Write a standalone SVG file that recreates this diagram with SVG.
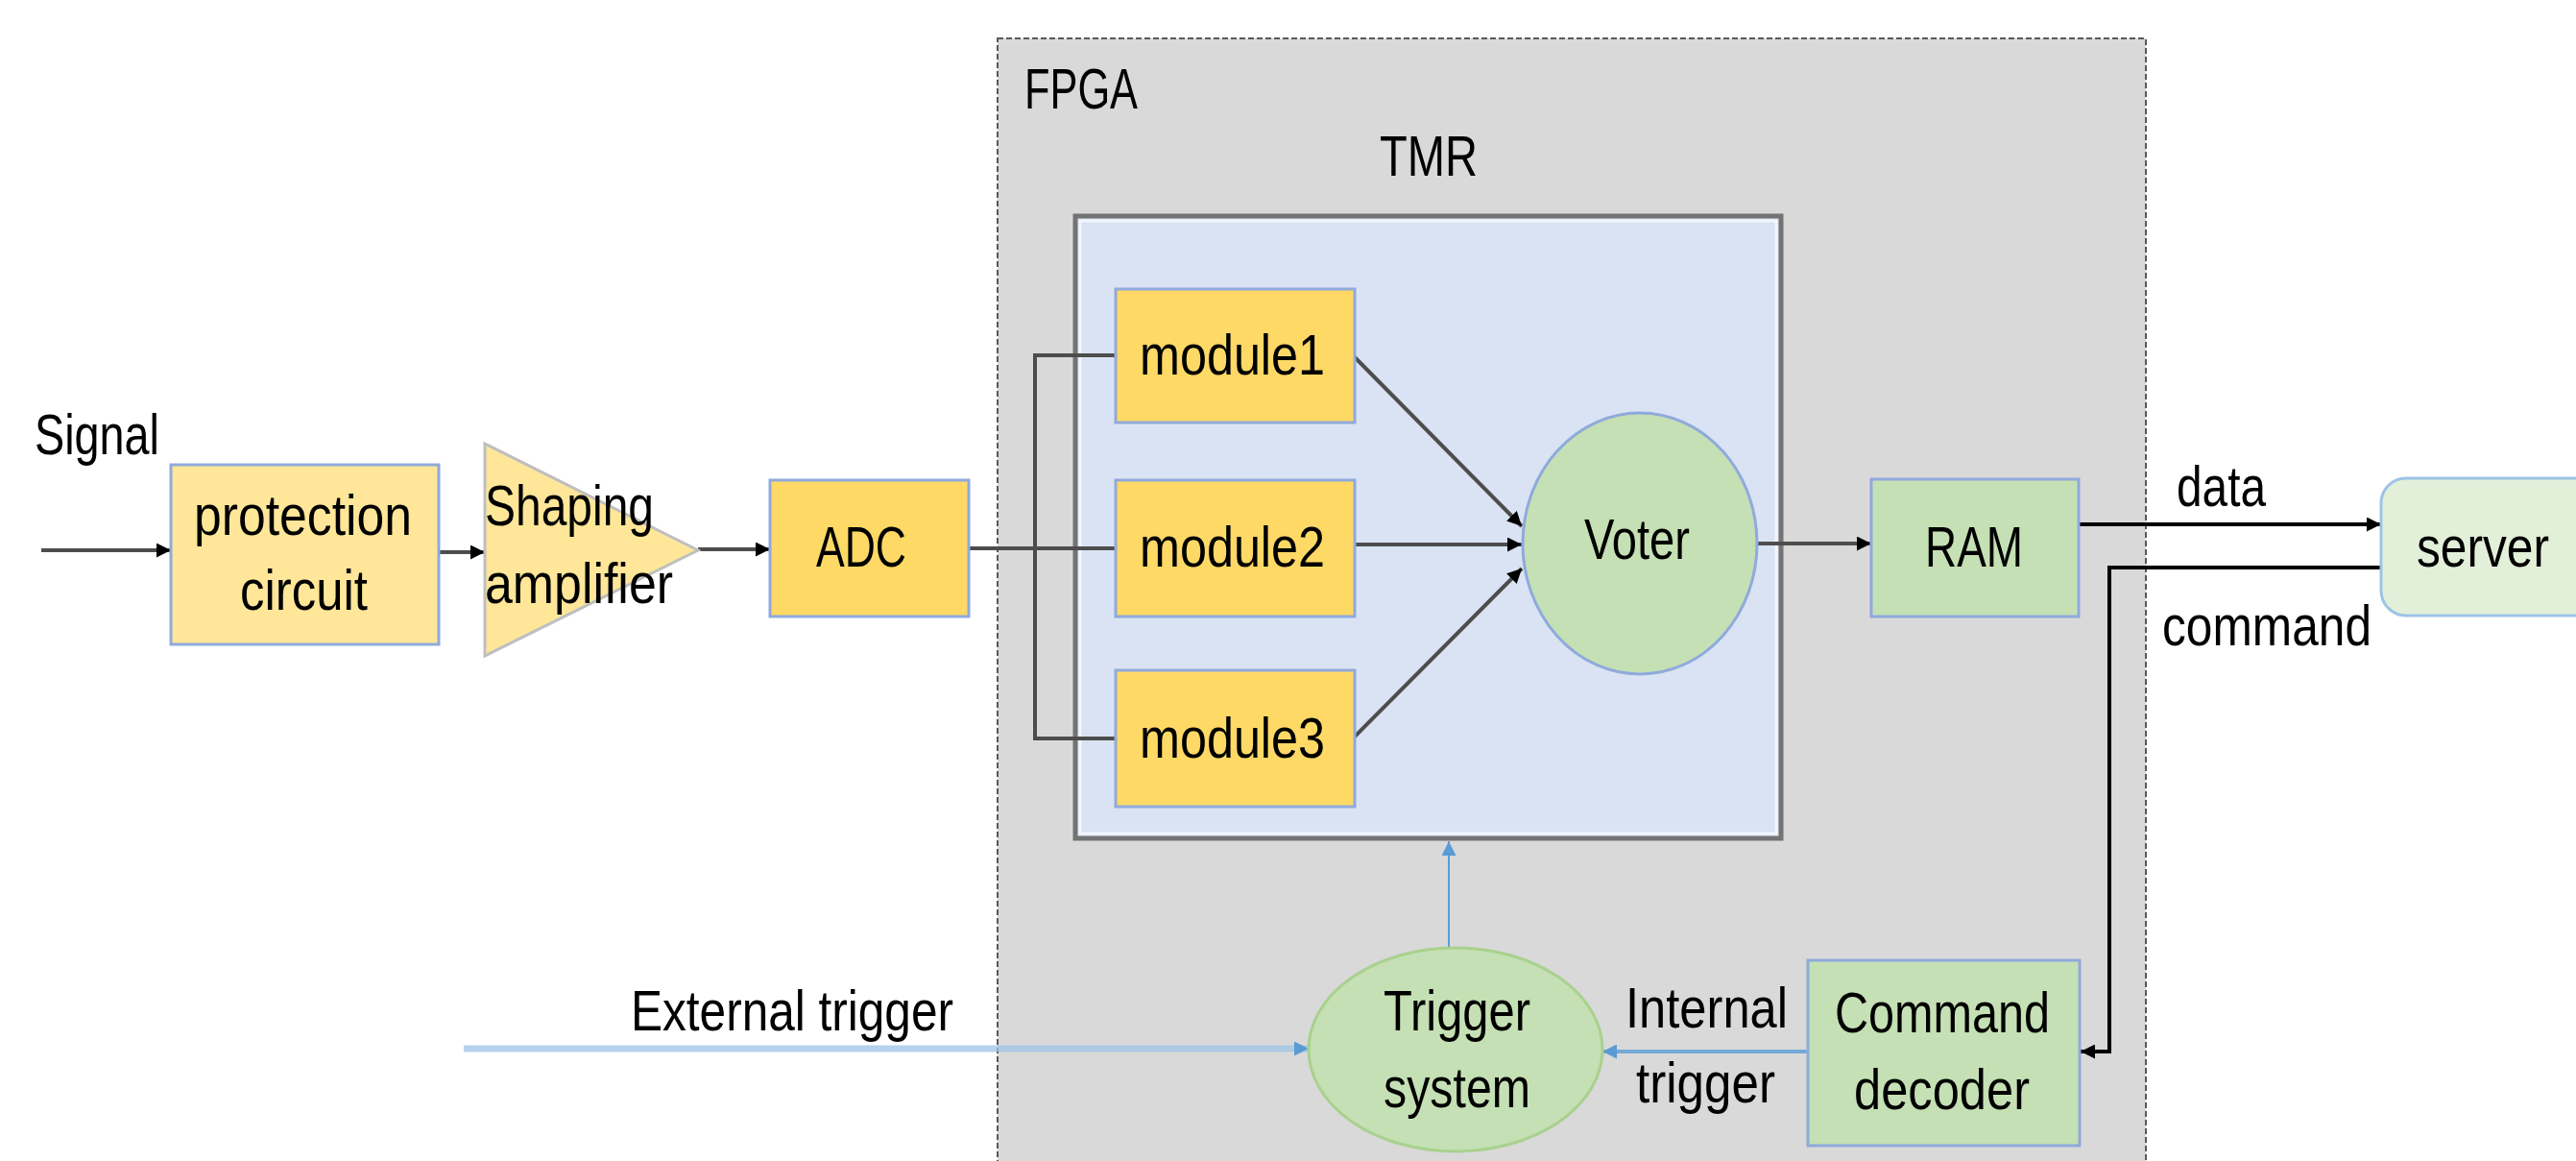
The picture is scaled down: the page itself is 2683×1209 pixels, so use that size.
<svg xmlns="http://www.w3.org/2000/svg" width="2683" height="1209" viewBox="0 0 2683 1209">
<defs>
<marker id="ah" viewBox="0 0 10 10" refX="10" refY="5" markerWidth="15" markerHeight="15" markerUnits="userSpaceOnUse" orient="auto"><path d="M0,0 L10,5 L0,10 z" fill="#000"/></marker>
<marker id="ahb" viewBox="0 0 10 10" refX="10" refY="5" markerWidth="15" markerHeight="15" markerUnits="userSpaceOnUse" orient="auto"><path d="M0,0 L10,5 L0,10 z" fill="#5B9BD5"/></marker>
</defs>
<style>
text{font-family:"Liberation Sans",Arial,sans-serif;font-size:60px;fill:#000}
.box{stroke:#8FAADC;stroke-width:3}
.y1{fill:#FFE699}
.y2{fill:#FFD966}
.g{fill:#C5E0B4}
.ln{fill:none;stroke:#4D4D4D;stroke-width:4}
.bk{fill:none;stroke:#000;stroke-width:4}
</style>
<rect width="2683" height="1209" fill="#fff"/>
<g id="fpga">
<rect x="1039" y="40" width="1196" height="1200" fill="#D9D9D9" stroke="#595959" stroke-width="2" stroke-dasharray="6 3"/>
<text x="1067" y="113" textLength="118" lengthAdjust="spacingAndGlyphs">FPGA</text>
</g>
<g id="tmr">
<rect x="1120" y="225" width="735" height="648" fill="#DAE3F3" stroke="#737373" stroke-width="5"/>
<rect x="1125" y="230" width="725" height="638" fill="none" stroke="#F2F6FC" stroke-width="3"/>
<text x="1437" y="183" textLength="102" lengthAdjust="spacingAndGlyphs">TMR</text>
</g>
<g id="connectors">
<line x1="43" y1="573" x2="178" y2="573" class="ln" stroke="#7F7F7F" stroke-width="5" marker-end="url(#ah)"/>
<line x1="457" y1="575" x2="505" y2="575" class="ln" stroke="#7F7F7F" stroke-width="5" marker-end="url(#ah)"/>
<line x1="727" y1="572" x2="802" y2="572" class="ln" marker-end="url(#ah)"/>
<line x1="1009" y1="571" x2="1162" y2="571" class="ln"/>
<polyline points="1162,370 1078,370 1078,769 1162,769" class="ln"/>
<line x1="1411" y1="372" x2="1585" y2="548" class="ln" marker-end="url(#ah)"/>
<line x1="1411" y1="567" x2="1585" y2="567" class="ln" marker-end="url(#ah)"/>
<line x1="1411" y1="767" x2="1585" y2="592" class="ln" marker-end="url(#ah)"/>
<line x1="1830" y1="566" x2="1949" y2="566" class="ln" marker-end="url(#ah)"/>
<line x1="2165" y1="546" x2="2480" y2="546" class="bk" stroke-width="5" marker-end="url(#ah)"/>
<polyline points="2480,591 2197,591 2197,1095 2167,1095" class="bk" marker-end="url(#ah)"/>
<line x1="483" y1="1092" x2="1363" y2="1092" stroke="#9DC3E6" stroke-width="7" stroke-opacity="0.75" marker-end="url(#ahb)"/>
<line x1="1883" y1="1095" x2="1669" y2="1095" stroke="#5B9BD5" stroke-width="4" stroke-opacity="0.8" marker-end="url(#ahb)"/>
<line x1="1509" y1="987" x2="1509" y2="876" stroke="#5B9BD5" stroke-width="2" marker-end="url(#ahb)"/>
<text x="2267" y="527" textLength="93" lengthAdjust="spacingAndGlyphs">data</text>
<text x="2252" y="672" textLength="218" lengthAdjust="spacingAndGlyphs">command</text>
<text x="657" y="1073" textLength="336" lengthAdjust="spacingAndGlyphs">External trigger</text>
<text x="1693" y="1070" textLength="169" lengthAdjust="spacingAndGlyphs">Internal</text>
<text x="1704" y="1148" textLength="145" lengthAdjust="spacingAndGlyphs">trigger</text>
</g>
<g id="signal">
<text x="36" y="473" textLength="130" lengthAdjust="spacingAndGlyphs">Signal</text>
</g>
<g id="protection">
<rect x="178" y="484" width="279" height="187" class="box y1"/>
<text x="202" y="557" textLength="227" lengthAdjust="spacingAndGlyphs">protection</text>
<text x="250" y="635" textLength="133" lengthAdjust="spacingAndGlyphs">circuit</text>
</g>
<g id="amplifier">
<polygon points="505,462 727,573 505,683" fill="#FFE699" stroke="#BFBFBF" stroke-width="3"/>
<text x="505" y="547" textLength="176" lengthAdjust="spacingAndGlyphs">Shaping</text>
<text x="505" y="628" textLength="196" lengthAdjust="spacingAndGlyphs">amplifier</text>
</g>
<g id="adc">
<rect x="802" y="500" width="207" height="142" class="box y2"/>
<text x="850" y="590" textLength="94" lengthAdjust="spacingAndGlyphs">ADC</text>
</g>
<g id="module1">
<rect x="1162" y="301" width="249" height="139" class="box y2"/>
<text x="1187" y="390" textLength="193" lengthAdjust="spacingAndGlyphs">module1</text>
</g>
<g id="module2">
<rect x="1162" y="500" width="249" height="142" class="box y2"/>
<text x="1187" y="590" textLength="193" lengthAdjust="spacingAndGlyphs">module2</text>
</g>
<g id="module3">
<rect x="1162" y="698" width="249" height="142" class="box y2"/>
<text x="1187" y="789" textLength="193" lengthAdjust="spacingAndGlyphs">module3</text>
</g>
<g id="voter">
<ellipse cx="1708" cy="566" rx="122" ry="136" class="g" stroke="#8FAADC" stroke-width="3"/>
<text x="1650" y="582" font-size="50" textLength="110" lengthAdjust="spacingAndGlyphs">Voter</text>
</g>
<g id="ram">
<rect x="1949" y="499" width="216" height="143" class="box g"/>
<text x="2005" y="590" textLength="102" lengthAdjust="spacingAndGlyphs">RAM</text>
</g>
<g id="server">
<rect x="2480" y="498" width="230" height="143" rx="26" fill="#E2F0D9" stroke="#9DC3E6" stroke-width="3"/>
<text x="2517" y="590" textLength="138" lengthAdjust="spacingAndGlyphs">server</text>
</g>
<g id="trigger">
<ellipse cx="1516" cy="1093" rx="153" ry="106" class="g" stroke="#A9D18E" stroke-width="3"/>
<text x="1441" y="1073" textLength="153" lengthAdjust="spacingAndGlyphs">Trigger</text>
<text x="1441" y="1153" textLength="153" lengthAdjust="spacingAndGlyphs">system</text>
</g>
<g id="decoder">
<rect x="1883" y="1000" width="283" height="193" class="box g"/>
<text x="1911" y="1075" textLength="224" lengthAdjust="spacingAndGlyphs">Command</text>
<text x="1931" y="1155" textLength="183" lengthAdjust="spacingAndGlyphs">decoder</text>
</g>
</svg>
